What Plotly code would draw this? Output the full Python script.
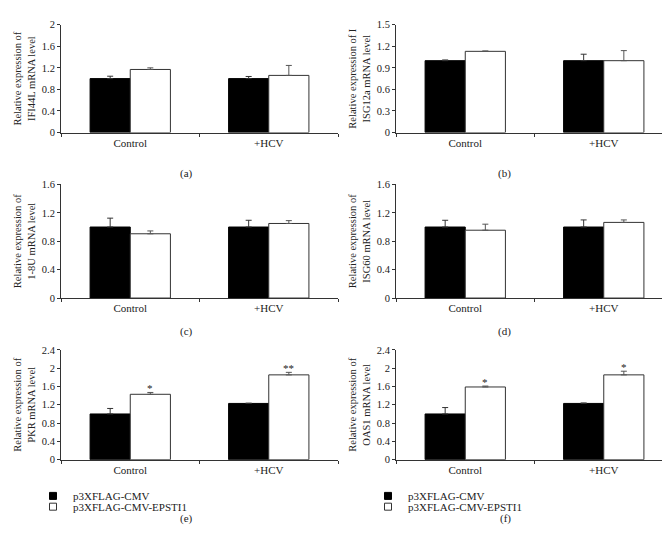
import plotly.graph_objects as go

categories = ["Control", "+HCV"]
series_names = ["p3XFLAG-CMV", "p3XFLAG-CMV-EPSTI1"]
panel_labels = ["(a)", "(b)", "(c)", "(d)", "(e)", "(f)"]
y_titles = [
    "Relative expression of<br>IFI44L mRNA level",
    "Relative expression of I<br>ISG12a mRNA level",
    "Relative expression of<br>1-8U mRNA level",
    "Relative expression of<br>ISG60 mRNA level",
    "Relative expression of<br>PKR mRNA level",
    "Relative expression of<br>OAS1 mRNA level",
]
y_max = [2.0, 1.5, 1.6, 1.6, 2.4, 2.4]
y_step = [0.4, 0.3, 0.4, 0.4, 0.4, 0.4]

# mean values and upper error (SD) per panel
a_cmv = [1.0, 1.0];   a_cmv_err = [0.045, 0.04]
a_eps = [1.17, 1.06]; a_eps_err = [0.03, 0.185]
b_cmv = [1.0, 1.0];   b_cmv_err = [0.01, 0.09]
b_eps = [1.13, 1.0];  b_eps_err = [0.005, 0.14]
c_cmv = [1.0, 1.0];   c_cmv_err = [0.125, 0.095]
c_eps = [0.905, 1.05]; c_eps_err = [0.04, 0.04]
d_cmv = [1.0, 1.0];   d_cmv_err = [0.095, 0.1]
d_eps = [0.955, 1.065]; d_eps_err = [0.085, 0.035]
e_cmv = [1.0, 1.23];  e_cmv_err = [0.12, 0.005]
e_eps = [1.43, 1.855]; e_eps_err = [0.04, 0.055]
f_cmv = [1.0, 1.23];  f_cmv_err = [0.14, 0.01]
f_eps = [1.59, 1.855]; f_eps_err = [0.02, 0.08]
e_stars = ["*", "**"]
f_stars = ["*", "*"]

cmv_vals = [a_cmv, b_cmv, c_cmv, d_cmv, e_cmv, f_cmv]
cmv_errs = [a_cmv_err, b_cmv_err, c_cmv_err, d_cmv_err, e_cmv_err, f_cmv_err]
eps_vals = [a_eps, b_eps, c_eps, d_eps, e_eps, f_eps]
eps_errs = [a_eps_err, b_eps_err, c_eps_err, d_eps_err, e_eps_err, f_eps_err]
stars = [None, None, None, None, e_stars, f_stars]

FONT = "Liberation Serif, Times New Roman, serif"
W, H = 670, 537
BARGAP = 0.42
TXT = "#222"

x_doms = [[53 / W, 330 / W], [388 / W, 665 / W]]
y_rows_px = [(12, 122), (175, 291), (344, 456)]
y_doms = [[1 - b / H, 1 - t / H] for t, b in y_rows_px]
label_px = [(170, 155), (505, 155), (170, 325), (505, 325), (170, 525), (505, 525)]

fig = go.Figure()
layout = dict(
    width=W, height=H, margin=dict(l=0, r=0, t=0, b=0),
    paper_bgcolor="white", plot_bgcolor="white",
    font=dict(family=FONT, size=11, color=TXT),
    barmode="group", bargap=BARGAP, bargroupgap=0,
)
annotations = []

for i in range(6):
    r, c = divmod(i, 2)
    n = "" if i == 0 else str(i + 1)
    xa, ya = "x" + n, "y" + n
    fig.add_trace(go.Bar(
        x=categories, y=cmv_vals[i], name=series_names[0],
        marker=dict(color="black", line=dict(color="black", width=1)),
        error_y=dict(type="data", array=cmv_errs[i], arrayminus=[0, 0], symmetric=False,
                     color="#333", thickness=1, width=3),
        xaxis=xa, yaxis=ya, showlegend=False,
    ))
    fig.add_trace(go.Bar(
        x=categories, y=eps_vals[i], name=series_names[1],
        marker=dict(color="white", line=dict(color="#333", width=1)),
        error_y=dict(type="data", array=eps_errs[i], arrayminus=[0, 0], symmetric=False,
                     color="#555", thickness=1, width=3),
        xaxis=xa, yaxis=ya, showlegend=False,
    ))
    ticks = [round(k * y_step[i], 2) for k in range(int(round(y_max[i] / y_step[i])) + 1)]
    layout["xaxis" + n] = dict(
        domain=x_doms[c], anchor=ya, type="category",
        showline=True, linecolor="#333", linewidth=1,
        ticks="outside", tickson="boundaries", ticklen=3, tickcolor="#333",
        showgrid=False, zeroline=False, tickfont=dict(size=11, color=TXT),
    )
    layout["yaxis" + n] = dict(
        domain=y_doms[r], anchor=xa, range=[0, y_max[i]],
        tickvals=ticks, ticktext=[f"{t:g}" for t in ticks],
        showline=True, linecolor="#333", linewidth=1,
        ticks="outside", ticklen=3, tickcolor="#333",
        showgrid=False, zeroline=False, tickfont=dict(size=10.5, color=TXT),
        title=dict(text=y_titles[i], font=dict(size=10.5, color=TXT), standoff=4),
    )
    if stars[i]:
        offset = (1 - BARGAP) / 4
        for k, s in enumerate(stars[i]):
            annotations.append(dict(
                x=k + offset, y=eps_vals[i][k] + eps_errs[i][k], xref=xa, yref=ya,
                text=s, showarrow=False, yanchor="bottom", yshift=-4,
                font=dict(size=11, color=TXT),
            ))
    lx, ly = label_px[i]
    annotations.append(dict(
        x=lx / W, y=1 - ly / H, xref="paper", yref="paper", text=panel_labels[i],
        showarrow=False, font=dict(size=11, color=TXT),
    ))

# legend entries (one legend per entry so they can sit close together)
legend_styles = [
    dict(color="black", line=dict(color="black", width=1)),
    dict(color="white", line=dict(color="#333", width=1)),
]
legend_x_px = [25, 360]
legend_y_px = [493, 504]
lg = 0
for c in range(2):
    for s in range(2):
        lg += 1
        lname = "legend" if lg == 1 else f"legend{lg}"
        fig.add_trace(go.Scatter(
            x=[None], y=[None], mode="markers", name=series_names[s],
            marker=dict(symbol="square", size=7, **legend_styles[s]),
            legend=lname, showlegend=True, xaxis="x", yaxis="y",
        ))
        layout[lname] = dict(
            x=legend_x_px[c] / W, y=1 - legend_y_px[s] / H,
            xanchor="left", yanchor="middle",
            font=dict(size=11, color=TXT), bgcolor="rgba(0,0,0,0)",
            itemwidth=30, borderwidth=0,
        )

layout["annotations"] = annotations
fig.update_layout(**layout)
fig.write_html("out.html")
